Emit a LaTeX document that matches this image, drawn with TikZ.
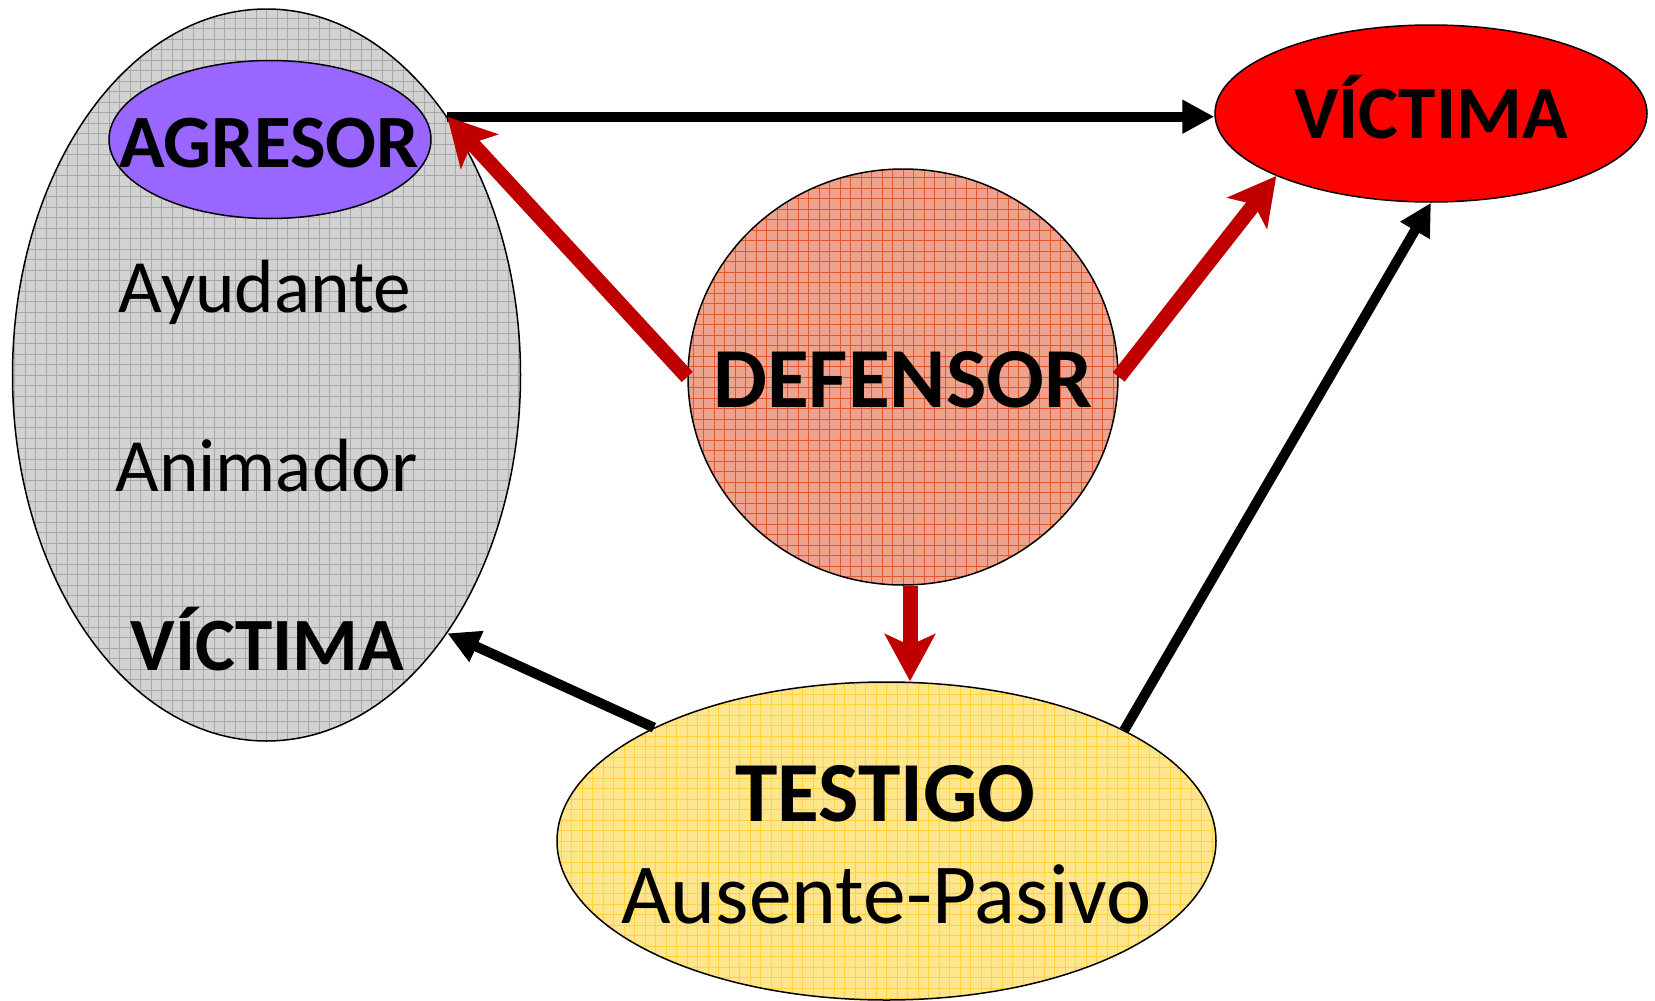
\documentclass[tikz,border=0pt]{standalone}
\usepackage{fontspec}
\setmainfont{Carlito}
\usetikzlibrary{shapes.geometric,arrows.meta}
\definecolor{grisfondo}{HTML}{D2D2D2}
\definecolor{grismalla}{HTML}{A8A8A8}
\definecolor{lila}{HTML}{9966FF}
\definecolor{rojovict}{HTML}{FF0000}
\definecolor{salmon}{HTML}{EDA38D}
\definecolor{salmonmalla}{HTML}{E2582E}
\definecolor{amarillo}{HTML}{FFE58C}
\definecolor{amarillomalla}{HTML}{FFD23C}
\definecolor{rojoflecha}{HTML}{C00000}
\newcommand{\letramedia}{\fontsize{75.3}{80}\selectfont}
\newcommand{\letragrande}{\fontsize{85.5}{90}\selectfont}

\begin{document}
\begin{tikzpicture}[x=1pt,y=-1pt,
    rol/.style={ellipse,draw=black,line width=1.5pt,inner sep=0pt},
    malla/.style 2 args={fill=#1,path picture={\draw[#2,line width=0.8pt,step=10.5pt]
        (path picture bounding box.south west) grid (path picture bounding box.north east);}},
    txt/.style={anchor=base,inner sep=0pt,font=\letramedia},
    negra/.style={draw=black,line width=10pt,-{Triangle[length=32pt,width=32pt]}},
    roja/.style={draw=rojoflecha,line width=15pt,-{Stealth[length=47pt,width=50pt,inset=11pt]}}]
    \useasboundingbox (0,0) rectangle (1655,1001);
    % grupo agresor ========================================
    \node[rol,malla={grisfondo}{grismalla},minimum width=508pt,minimum height=732pt] (grupo) at (266.5,375) {};
    \node[rol,fill=lila,minimum width=322pt,minimum height=158pt] (agresor) at (270,139.5) {};
    \node[txt,font=\letramedia\bfseries] (tagresor)  at (269,167) {AGRESOR};
    \node[txt]                           (tayudante) at (265,312) {Ayudante};
    \node[txt]                           (tanimador) at (266.5,491) {Animador};
    \node[txt,font=\letramedia\bfseries] (tvictimaA) at (267.5,670) {VÍCTIMA};
    % victima ==============================================
    \node[rol,fill=rojovict,minimum width=432pt,minimum height=177pt] (victima) at (1431,113.5) {};
    \node[txt,font=\letramedia\bfseries] (tvictimaB) at (1431,138) {VÍCTIMA};
    % defensor =============================================
    \node[rol,malla={salmon}{salmonmalla},minimum width=430pt,minimum height=416pt] (defensor) at (903,377) {};
    \node[txt,font=\letragrande\bfseries] (tdefensor) at (903,407) {DEFENSOR};
    % testigo ==============================================
    \node[rol,malla={amarillo}{amarillomalla},minimum width=659pt,minimum height=318pt] (testigo) at (886.5,841) {};
    \node[txt,font=\letragrande\bfseries] (ttestigo) at (885.5,821) {TESTIGO};
    \node[txt,font=\letragrande]          (tpasivo)  at (886.5,923.5) {Ausente-Pasivo};
    % flechas ==============================================
    \draw[negra] (grupo.55) -- (grupo.55 -| victima.west);
    \draw[roja] (defensor.west) -- (grupo.55);
    \draw[roja] (defensor.east) -- (victima.202);
    \draw[roja] ([xshift=7pt]defensor.south) -- ([xshift=23.5pt]testigo.north);
    \draw[negra] (testigo.154) -- (grupo.-55);
    \draw[negra] (testigo.25) -- (victima.south);
\end{tikzpicture}
\end{document}
